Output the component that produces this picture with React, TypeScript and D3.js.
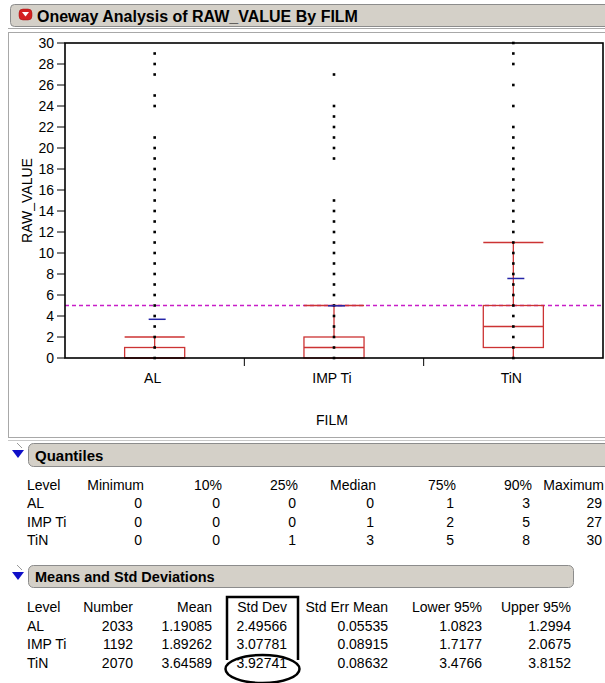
import React from 'react';
import * as d3 from 'd3';

// categories
const films = ['AL', 'IMP Ti', 'TiN'];

// raw values shown as points (distinct values per film)
const alValues = [0, 1, 2, 3, 4, 5, 6, 7, 8, 9, 10, 11, 12, 13, 14, 15, 16, 17, 18, 19, 20, 21, 24, 25, 27, 28, 29];
const impTiValues = [0, 1, 2, 3, 4, 5, 6, 7, 8, 9, 10, 11, 12, 13, 14, 15, 19, 20, 21, 22, 23, 24, 27];
const tinValues = [0, 1, 2, 3, 4, 5, 6, 7, 8, 9, 10, 11, 12, 13, 14, 15, 16, 17, 18, 19, 20, 21, 22, 24, 26, 28, 29, 30];

// quantiles
const qMin = [0, 0, 0];
const q10 = [0, 0, 0];
const q25 = [0, 0, 1];
const qMedian = [0, 1, 3];
const q75 = [1, 2, 5];
const q90 = [3, 5, 8];
const qMax = [29, 27, 30];
const whiskerHi = [2, 5, 11];
const whiskerLo = [0, 0, 0];

// means and std deviations
const counts = [2033, 1192, 2070];
const means = [1.19085, 1.89262, 3.64589];
const stdDevs = [2.49566, 3.07781, 3.92741];
const stdErrs = [0.05535, 0.08915, 0.08632];
const lower95 = [1.0823, 1.7177, 3.4766];
const upper95 = [1.2994, 2.0675, 3.8152];

const refLine = 5;
const yTicks = [0, 2, 4, 6, 8, 10, 12, 14, 16, 18, 20, 22, 24, 26, 28, 30];

const font = '"Liberation Sans", Arial, sans-serif';
const red = '#cc3333';
const gray = '#d4d0c8';

const plot = { left: 65, right: 603, top: 43, bottom: 358 };

const App = () => {
  const x = d3.scaleBand<string>().domain(films).range([plot.left, plot.right]).padding(0);
  const y = d3.scaleLinear().domain([0, 30]).range([plot.bottom, plot.top]);
  const bw = x.bandwidth() * 0.335;
  const pointSets = [alValues, impTiValues, tinValues];

  const quantCols = [
    { label: 'Minimum', right: 144, vals: qMin },
    { label: '10%', right: 222, vals: q10 },
    { label: '25%', right: 298, vals: q25 },
    { label: 'Median', right: 376, vals: qMedian },
    { label: '75%', right: 456, vals: q75 },
    { label: '90%', right: 532, vals: q90 },
    { label: 'Maximum', right: 604, vals: qMax },
  ];
  const meanCols = [
    { label: 'Number', right: 133, vals: counts.map(String) },
    { label: 'Mean', right: 212, vals: means.map((d) => d.toFixed(5)) },
    { label: 'Std Dev', right: 287, vals: stdDevs.map((d) => d.toFixed(5)) },
    { label: 'Std Err Mean', right: 388, vals: stdErrs.map((d) => d.toFixed(5)) },
    { label: 'Lower 95%', right: 482, vals: lower95.map((d) => d.toFixed(4)) },
    { label: 'Upper 95%', right: 571, vals: upper95.map((d) => d.toFixed(4)) },
  ];
  const qRowsY = [485, 503, 522, 540];
  const mRowsY = [607, 626, 644, 663];

  const discIcon = (cy: number) => (
    <g>
      <line x1={17} y1={cy - 12} x2={22} y2={cy - 7} stroke="#9a9a9a" strokeWidth={1} />
      <polygon points={`12,${cy - 5} 24,${cy - 5} 18,${cy + 3}`} fill="#1010c8" />
    </g>
  );

  return (
    <svg
      width={605}
      height={683}
      style={{ position: 'absolute', left: 0, top: 0, background: '#fff' }}
      fontFamily={font}
    >
      {/* title bar */}
      <rect x={10.5} y={4.5} width={610} height={22} rx={4} fill={gray} stroke="#8c8c8c" />
      <rect x={19} y={9} width={13} height={11} rx={4} fill="#d42020" stroke="#a01010" strokeWidth={0.5} />
      <polygon points="22,12 29,12 25.5,16.5" fill="#fff" />
      <text x={37} y={16} dominantBaseline="central" fontSize={16} fontWeight="bold">
        Oneway Analysis of RAW_VALUE By FILM
      </text>
      <line x1={8} y1={28.5} x2={605} y2={28.5} stroke="#a8a8a8" />
      <line x1={8} y1={32.5} x2={605} y2={32.5} stroke="#a8a8a8" />
      <line x1={8.5} y1={32} x2={8.5} y2={438} stroke="#a8a8a8" />
      <line x1={8} y1={437.5} x2={605} y2={437.5} stroke="#a8a8a8" />
      <line x1={8} y1={440.5} x2={605} y2={440.5} stroke="#c8c8c8" />

      {/* reference line */}
      <line
        x1={plot.left}
        x2={plot.right}
        y1={y(refLine)}
        y2={y(refLine)}
        stroke="#c81ec8"
        strokeWidth={1.5}
        strokeDasharray="4,3"
      />

      {/* box plots */}
      {films.map((f, i) => {
        const cx = x(f)! + x.bandwidth() / 2;
        return (
          <g key={f} stroke={red} strokeWidth={1.3} fill="none">
            <line x1={cx} x2={cx} y1={y(q75[i])} y2={y(whiskerHi[i])} />
            <line x1={cx - bw / 2} x2={cx + bw / 2} y1={y(whiskerHi[i])} y2={y(whiskerHi[i])} />
            <line x1={cx} x2={cx} y1={y(q25[i])} y2={y(whiskerLo[i])} />
            <rect x={cx - bw / 2} y={y(q75[i])} width={bw} height={y(q25[i]) - y(q75[i])} />
            <line x1={cx - bw / 2} x2={cx + bw / 2} y1={y(qMedian[i])} y2={y(qMedian[i])} />
          </g>
        );
      })}

      {/* points */}
      {pointSets.map((vals, i) => {
        const cx = x(films[i])! + x.bandwidth() / 2;
        return vals.map((v) => (
          <rect key={`${i}-${v}`} x={cx - 1.3} y={y(v) - 1.3} width={2.6} height={2.6} fill="#000" />
        ));
      })}

      {/* mean + 1 sd markers */}
      {films.map((f, i) => {
        const cx = x(f)! + x.bandwidth() / 2 + 2.5;
        return (
          <line
            key={f}
            x1={cx - 8.5}
            x2={cx + 8.5}
            y1={y(means[i] + stdDevs[i])}
            y2={y(means[i] + stdDevs[i])}
            stroke="#2424a8"
            strokeWidth={1.5}
          />
        );
      })}

      {/* frame and axes */}
      <rect
        x={plot.left}
        y={plot.top}
        width={plot.right - plot.left}
        height={plot.bottom - plot.top}
        fill="none"
        stroke="#000"
        strokeWidth={1.6}
      />
      {yTicks.map((t) => (
        <g key={t}>
          <line x1={57} x2={plot.left} y1={y(t)} y2={y(t)} stroke="#000" />
          <text x={54} y={y(t)} textAnchor="end" dominantBaseline="central" fontSize={14}>
            {t}
          </text>
        </g>
      ))}
      <text
        transform={`translate(27,${(plot.top + plot.bottom) / 2}) rotate(-90)`}
        textAnchor="middle"
        dominantBaseline="central"
        fontSize={14}
      >
        RAW_VALUE
      </text>
      {films.slice(1).map((f) => (
        <line key={f} x1={x(f)!} x2={x(f)!} y1={plot.bottom} y2={plot.bottom + 8} stroke="#000" />
      ))}
      {films.map((f) => (
        <text
          key={f}
          x={x(f)! + x.bandwidth() / 2 - 2}
          y={378}
          textAnchor="middle"
          dominantBaseline="central"
          fontSize={14}
        >
          {f}
        </text>
      ))}
      <text x={332} y={420} textAnchor="middle" dominantBaseline="central" fontSize={14}>
        FILM
      </text>

      {/* Quantiles */}
      {discIcon(455)}
      <rect x={28.5} y={443.5} width={600} height={23} rx={5} fill={gray} stroke="#8c8c8c" />
      <text x={35} y={455} dominantBaseline="central" fontSize={15} fontWeight="bold">
        Quantiles
      </text>
      <text x={27} y={qRowsY[0]} dominantBaseline="central" fontSize={14}>Level</text>
      {films.map((f, i) => (
        <text key={f} x={27} y={qRowsY[i + 1]} dominantBaseline="central" fontSize={14}>{f}</text>
      ))}
      {quantCols.map((c) => (
        <g key={c.label} fontSize={14} textAnchor="end">
          <text x={c.right} y={qRowsY[0]} dominantBaseline="central">{c.label}</text>
          {c.vals.map((v, i) => (
            <text key={i} x={c.right - 2} y={qRowsY[i + 1]} dominantBaseline="central">{v}</text>
          ))}
        </g>
      ))}

      {/* Means and Std Deviations */}
      {discIcon(577)}
      <rect x={28.5} y={565.5} width={545} height={22} rx={5} fill={gray} stroke="#8c8c8c" />
      <text x={35} y={577} dominantBaseline="central" fontSize={14.5} fontWeight="bold">
        Means and Std Deviations
      </text>
      <text x={27} y={mRowsY[0]} dominantBaseline="central" fontSize={14}>Level</text>
      {films.map((f, i) => (
        <text key={f} x={27} y={mRowsY[i + 1]} dominantBaseline="central" fontSize={14}>{f}</text>
      ))}
      {meanCols.map((c) => (
        <g key={c.label} fontSize={14} textAnchor="end">
          <text x={c.right} y={mRowsY[0]} dominantBaseline="central">{c.label}</text>
          {c.vals.map((v, i) => (
            <text key={i} x={c.right} y={mRowsY[i + 1]} dominantBaseline="central">{v}</text>
          ))}
        </g>
      ))}

      {/* annotation around Std Dev */}
      <path d="M227,660 V597 H298 V660" fill="none" stroke="#000" strokeWidth={2.5} />
      <ellipse cx={262.5} cy={669} rx={37} ry={14} fill="none" stroke="#000" strokeWidth={2.5} />
    </svg>
  );
};

export default App;
